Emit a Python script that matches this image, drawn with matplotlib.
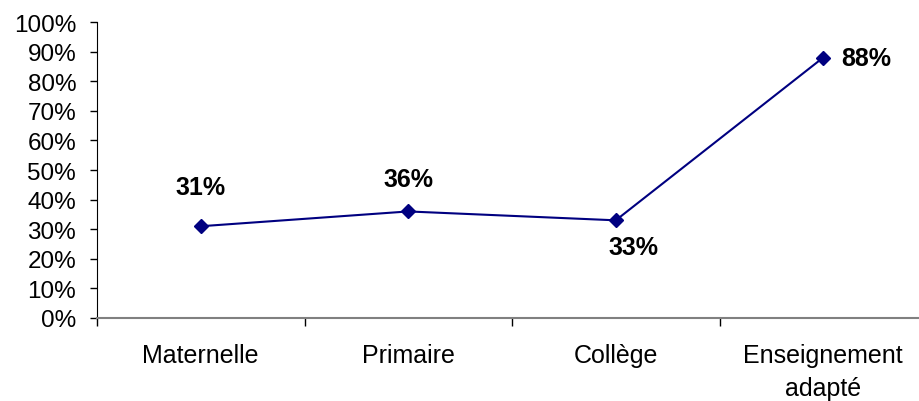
import matplotlib.pyplot as plt
from matplotlib.ticker import PercentFormatter

categories = ["Maternelle", "Primaire", "Collège", "Enseignement\nadapté"]
values = [31, 36, 33, 88]
# label offsets in points (dx, dy) and horizontal alignment for each data label
label_offsets = [(0, 28), (0, 23), (13, -19), (13, 0)]
label_align = ["center", "center", "center", "left"]

plt.rcParams['font.family'] = ['Liberation Sans', 'DejaVu Sans']

fig = plt.figure(figsize=(9.19, 4.02), dpi=100)
ax = fig.add_axes([97 / 919, 1 - 319 / 402, 830 / 919, (319 - 23) / 402])

x = list(range(len(categories)))
ax.plot(x, values, color="#000080", linewidth=1.5, marker="D", markersize=7,
        markerfacecolor="#000080", markeredgecolor="#000080", clip_on=False)

for xi, v, (dx, dy), ha in zip(x, values, label_offsets, label_align):
    ax.annotate(f"{v}%", (xi, v), xytext=(dx, dy), textcoords="offset points",
                ha=ha, va="center", fontsize=18, fontweight="bold")

ax.set_xlim(-0.5, len(categories) - 0.5)
ax.set_ylim(0, 100)
ax.set_yticks(range(0, 101, 10))
ax.yaxis.set_major_formatter(PercentFormatter(decimals=0))

# boundary ticks on the category axis, labels centred between them
ax.set_xticks([i - 0.5 for i in range(len(categories) + 1)])
ax.set_xticklabels([])
ax.set_xticks(x, minor=True)
ax.set_xticklabels(categories, minor=True)
for lbl in ax.get_xticklabels(minor=True):
    lbl.set_linespacing(1.45)
ax.tick_params(axis="x", which="major", length=6, width=1, color="black")
ax.tick_params(axis="x", which="minor", length=0, pad=18, labelsize=18)
ax.tick_params(axis="y", length=5, width=1, pad=10, labelsize=17.5)

for side in ("top", "right"):
    ax.spines[side].set_visible(False)
ax.spines["left"].set_color("black")
ax.spines["bottom"].set_color("#808080")
ax.spines["bottom"].set_linewidth(1.5)

fig.savefig("out.png", dpi=100)
